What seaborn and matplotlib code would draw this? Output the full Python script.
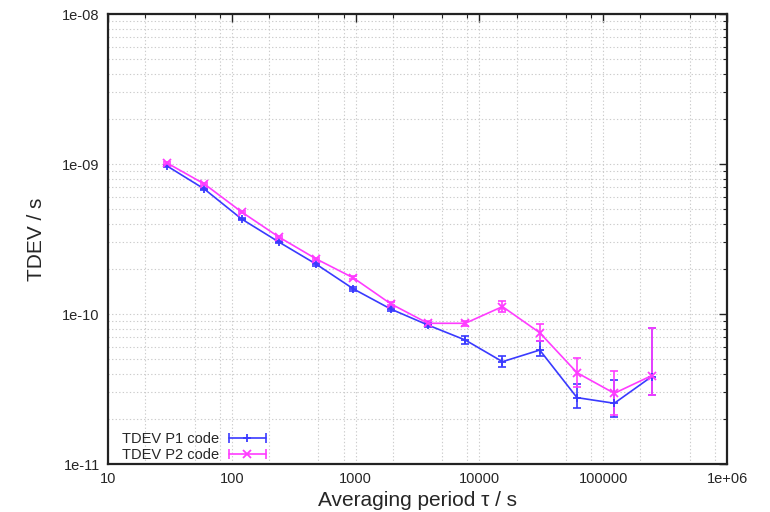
import numpy as np
import pandas as pd
import matplotlib
matplotlib.use("Agg")
import matplotlib.pyplot as plt
import matplotlib.ticker as mticker
from matplotlib.lines import Line2D
from matplotlib.legend_handler import HandlerLine2D, HandlerTuple
import seaborn as sns

# ---- data ----
tau = [30, 60, 120, 240, 480, 960, 1920, 3840, 7680, 15360, 30720, 61440, 122880, 245760]

p1_tdev = [9.70e-10, 6.81e-10, 4.30e-10, 3.02e-10, 2.15e-10, 1.47e-10, 1.08e-10,
           8.44e-11, 6.71e-11, 4.81e-11, 5.75e-11, 2.77e-11, 2.54e-11, 3.82e-11]
p1_low = [9.55e-10, 6.70e-10, 4.22e-10, 2.96e-10, 2.10e-10, 1.43e-10, 1.05e-10,
          8.15e-11, 6.31e-11, 4.43e-11, 5.25e-11, 2.37e-11, 2.07e-11, 2.88e-11]
p1_high = [9.85e-10, 6.92e-10, 4.38e-10, 3.08e-10, 2.20e-10, 1.51e-10, 1.11e-10,
           8.73e-11, 7.13e-11, 5.25e-11, 6.61e-11, 3.40e-11, 3.63e-11, 8.06e-11]

p2_tdev = [1.015e-9, 7.36e-10, 4.79e-10, 3.26e-10, 2.33e-10, 1.74e-10, 1.17e-10,
           8.67e-11, 8.67e-11, 1.12e-10, 7.50e-11, 4.06e-11, 2.96e-11, 3.88e-11]
p2_low = [1.00e-9, 7.25e-10, 4.70e-10, 3.20e-10, 2.28e-10, 1.70e-10, 1.14e-10,
          8.40e-11, 8.32e-11, 1.026e-10, 6.61e-11, 3.28e-11, 2.12e-11, 2.88e-11]
p2_high = [1.03e-9, 7.47e-10, 4.88e-10, 3.32e-10, 2.38e-10, 1.78e-10, 1.20e-10,
           8.94e-11, 9.02e-11, 1.227e-10, 8.54e-11, 5.07e-11, 4.19e-11, 8.03e-11]

series_names = ["TDEV P1 code", "TDEV P2 code"]
x_tick_values = [10, 100, 1000, 10000, 100000, 1000000]
x_tick_labels = ["10", "100", "1000", "10000", "100000", "1e+06"]
y_tick_values = [1e-11, 1e-10, 1e-9, 1e-8]
y_tick_labels = ["1e-11", "1e-10", "1e-09", "1e-08"]

# ---- styling ----
sns.set_theme(style="white")
plt.rcParams["font.family"] = ["Liberation Sans", "DejaVu Sans"]

colors = {series_names[0]: "#3a3aff", series_names[1]: "#ff3cff"}
markers = {series_names[0]: "+", series_names[1]: "x"}

df = pd.concat([
    pd.DataFrame({"tau": tau, "tdev": p1_tdev, "lo": p1_low, "hi": p1_high, "series": series_names[0]}),
    pd.DataFrame({"tau": tau, "tdev": p2_tdev, "lo": p2_low, "hi": p2_high, "series": series_names[1]}),
], ignore_index=True)

fig = plt.figure(figsize=(7.7, 5.12), dpi=100)
ax = fig.add_axes([108 / 770, 1 - 464 / 512, (727 - 108) / 770, (464 - 14) / 512])

ax.set_xscale("log")
ax.set_yscale("log")

# error bars and lines, one series at a time
for name in series_names:
    d = df[df["series"] == name]
    yerr = np.vstack([(d["tdev"] - d["lo"]).to_numpy(), (d["hi"] - d["tdev"]).to_numpy()])
    ax.errorbar(d["tau"].to_numpy(), d["tdev"].to_numpy(), yerr=yerr, fmt="none",
                ecolor=colors[name], elinewidth=1.2, capsize=3.2, capthick=1.2, zorder=2)
    sns.lineplot(data=d, x="tau", y="tdev", color=colors[name], marker=markers[name],
                 linewidth=1.2, markersize=6, markeredgewidth=1.3,
                 markeredgecolor=colors[name], ax=ax, legend=False, zorder=3)

ax.set_xlim(10, 1e6)
ax.set_ylim(1e-11, 1e-8)

# grid
ax.xaxis.set_minor_locator(mticker.LogLocator(base=10, subs=(2.0, 5.0, 8.0), numticks=20))
ax.yaxis.set_minor_locator(mticker.LogLocator(base=10, subs=np.arange(2, 10), numticks=20))
ax.xaxis.set_minor_formatter(mticker.NullFormatter())
ax.yaxis.set_minor_formatter(mticker.NullFormatter())
ax.grid(True, which="both", color="#cccccc", linestyle=(0, (1.2, 2.0)), linewidth=0.8)
ax.set_axisbelow(True)

ax.set_xticks(x_tick_values)
ax.set_xticklabels(x_tick_labels)
ax.set_yticks(y_tick_values)
ax.set_yticklabels(y_tick_labels)

ax.tick_params(axis="both", which="major", direction="in", length=6, width=1.0,
               labelsize=10.5, top=True, right=True, color="#222222")
ax.tick_params(axis="both", which="minor", direction="in", length=3, width=0.8,
               top=True, right=True, color="#222222")
ax.tick_params(axis="x", which="major", pad=6)
ax.tick_params(axis="y", which="major", pad=6)

for s in ax.spines.values():
    s.set_visible(True)
    s.set_color("#222222")
    s.set_linewidth(1.6)

ax.set_xlabel("Averaging period τ / s", fontsize=15, labelpad=3)
ax.set_ylabel("TDEV / s", fontsize=15, labelpad=12)

# gnuplot-style legend: text first, line sample with error caps and marker
handles = []
hmap = {tuple: HandlerTuple(ndivide=1, pad=0)}
for name in series_names:
    caps = Line2D([], [], color=colors[name], linewidth=1.2, marker="|",
                  markersize=7, markeredgewidth=1.2)
    mid = Line2D([], [], color=colors[name], linestyle="none", marker=markers[name],
                 markersize=6, markeredgewidth=1.3)
    hmap[caps] = HandlerLine2D(numpoints=2)
    hmap[mid] = HandlerLine2D(numpoints=1)
    handles.append((caps, mid))
leg = ax.legend(handles, series_names, handler_map=hmap,
                loc="lower left", bbox_to_anchor=(0.006, -0.018), frameon=False,
                markerfirst=False, handlelength=3.2, handletextpad=0.35,
                labelspacing=0.1, fontsize=10.5, borderpad=0.2)

fig.savefig("out.png", dpi=100)
